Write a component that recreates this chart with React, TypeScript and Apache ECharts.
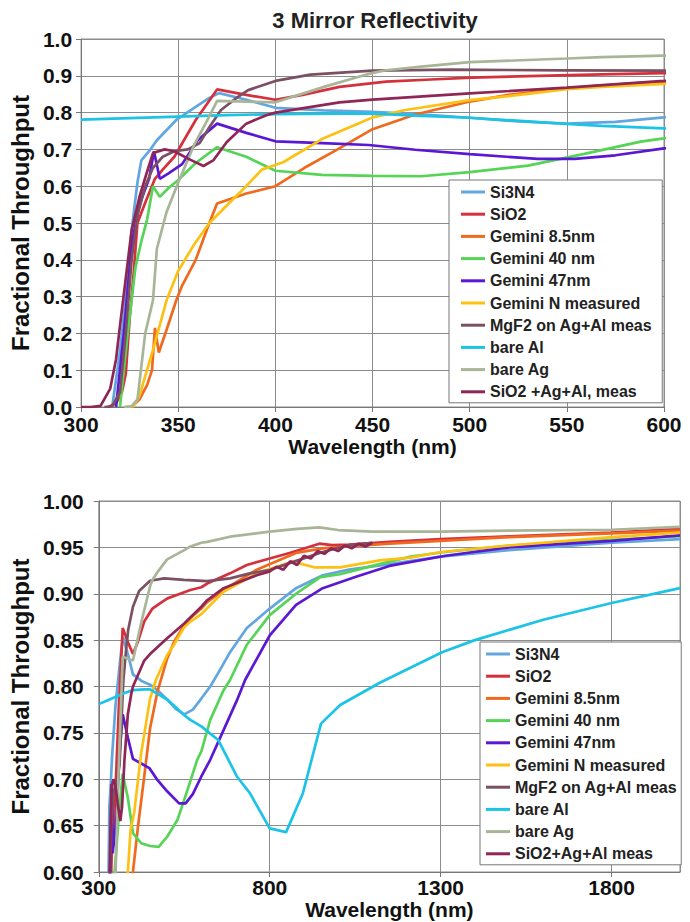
import React, { useEffect, useRef } from "react";
import * as echarts from "echarts";

const FONT = '"Liberation Sans", Arial, Helvetica, sans-serif';

// Reflectivity of a three-mirror system: [wavelength (nm), fractional throughput]
const si3n4: [number, number][] = [
  [316, 0], [320, 0.15], [323, 0.3], [326, 0.48], [329, 0.61], [331, 0.67], [335, 0.695], [339, 0.725],
  [349, 0.78], [358, 0.812], [366, 0.84], [371, 0.853], [385, 0.835], [400, 0.813], [425, 0.806],
  [450, 0.802], [475, 0.795], [500, 0.786], [525, 0.776], [550, 0.77], [575, 0.775], [600, 0.787],
  [626, 0.8], [650, 0.815], [684, 0.837], [733, 0.863], [800, 0.884], [877, 0.906], [955, 0.92],
  [1032, 0.926], [1150, 0.932], [1300, 0.94], [1500, 0.947], [1800, 0.955], [2000, 0.959],
];

const sio2: [number, number][] = [
  [314, 0], [318, 0.01], [321, 0.04], [323, 0.09], [325, 0.24], [327, 0.36], [329, 0.5], [333, 0.555],
  [338, 0.62], [342, 0.645], [348, 0.68], [359, 0.78], [370, 0.863], [385, 0.848], [400, 0.835],
  [414, 0.848], [433, 0.87], [457, 0.884], [480, 0.89], [501, 0.895], [530, 0.899], [568, 0.904],
  [600, 0.907], [617, 0.911], [684, 0.922], [733, 0.931], [800, 0.938], [858, 0.944], [945, 0.954],
  [983, 0.9525], [1032, 0.953], [1150, 0.956], [1300, 0.959], [1500, 0.962], [1800, 0.966], [2000, 0.97],
];

const gemini85: [number, number][] = [
  [326, 0], [330, 0.02], [334, 0.06], [336.5, 0.1], [338, 0.215], [340, 0.148], [344, 0.21], [349, 0.29],
  [352, 0.33], [359, 0.4], [366, 0.5], [370, 0.553], [385, 0.58], [400, 0.6], [415, 0.65], [432, 0.7],
  [450, 0.755], [472, 0.795], [500, 0.83], [520, 0.848], [550, 0.866], [568, 0.874], [600, 0.884],
  [617, 0.891], [665, 0.904], [713, 0.915], [762, 0.926], [820, 0.935], [877, 0.944], [955, 0.949],
  [1032, 0.951], [1150, 0.954], [1300, 0.957], [1500, 0.961], [1800, 0.965], [2000, 0.968],
];

const gemini40: [number, number][] = [
  [320, 0], [324, 0.2], [328, 0.38], [331, 0.45], [334, 0.51], [337, 0.6], [340.5, 0.571], [345, 0.595],
  [350, 0.617], [359, 0.663], [370, 0.706], [385, 0.68], [400, 0.642], [424, 0.631], [450, 0.628],
  [475, 0.627], [500, 0.638], [530, 0.656], [559, 0.688], [588, 0.721], [600, 0.73], [626, 0.764],
  [665, 0.796], [684, 0.807], [733, 0.845], [800, 0.877], [877, 0.9], [948, 0.918], [1006, 0.921],
  [1100, 0.93], [1212, 0.94], [1313, 0.945], [1500, 0.952], [1800, 0.958], [2000, 0.962],
];

const gemini47: [number, number][] = [
  [318, 0], [322, 0.2], [326, 0.44], [330, 0.55], [335, 0.62], [337.5, 0.695], [340.5, 0.62], [345, 0.635],
  [352, 0.66], [360, 0.725], [370, 0.77], [385, 0.745], [400, 0.722], [424, 0.717], [448, 0.712],
  [472, 0.699], [500, 0.687], [535, 0.674], [554, 0.674], [575, 0.684], [600, 0.703], [626, 0.721],
  [665, 0.753], [704, 0.785], [728, 0.807], [800, 0.855], [877, 0.888], [955, 0.906], [1050, 0.918],
  [1150, 0.93], [1314, 0.941], [1500, 0.95], [1800, 0.957], [2000, 0.963],
];

const geminiN: [number, number][] = [
  [323, 0], [327, 0.002], [330, 0.03], [337, 0.155], [344, 0.29], [350, 0.37], [358, 0.44], [366, 0.5],
  [376, 0.553], [385, 0.6], [393, 0.645], [404, 0.665], [424, 0.728], [443, 0.771], [450, 0.787],
  [467, 0.807], [500, 0.834], [520, 0.845], [550, 0.864], [568, 0.87], [600, 0.878], [665, 0.902],
  [762, 0.922], [820, 0.929], [866, 0.9346], [930, 0.9285], [1006, 0.9285], [1122, 0.936], [1212, 0.939],
  [1300, 0.945], [1500, 0.952], [1800, 0.961], [2000, 0.966],
];

const mgf2: [number, number][] = [
  [312, 0], [316, 0.002], [320, 0.04], [323, 0.2], [326, 0.4], [329, 0.52], [333, 0.6], [337, 0.65],
  [342, 0.68], [348, 0.695], [355, 0.7], [361, 0.717], [366, 0.76], [372, 0.807], [380, 0.84],
  [386, 0.861], [400, 0.886], [418, 0.903], [450, 0.914], [491, 0.9166], [549, 0.915], [617, 0.9137],
  [684, 0.9166], [742, 0.922], [800, 0.9256], [858, 0.933], [955, 0.945], [1032, 0.9525], [1100, 0.955],
];

const bareAl: [number, number][] = [
  [300, 0.781], [325, 0.785], [350, 0.789], [375, 0.793], [400, 0.796], [433, 0.797], [450, 0.797],
  [472, 0.792], [500, 0.786], [530, 0.776], [550, 0.769], [568, 0.764], [600, 0.757], [650, 0.742],
  [704, 0.703], [742, 0.685], [800, 0.647], [848, 0.643], [897, 0.685], [950, 0.76], [1006, 0.78],
  [1122, 0.804], [1304, 0.837], [1400, 0.85], [1600, 0.872], [1800, 0.89], [2000, 0.906],
];

const bareAg: [number, number][] = [
  [322, 0], [326, 0.002], [329, 0.02], [333, 0.2], [337, 0.29], [339, 0.43], [344, 0.53], [350, 0.61],
  [354, 0.66], [358, 0.71], [366, 0.79], [370, 0.832], [385, 0.83], [400, 0.828], [425, 0.87],
  [438, 0.89], [450, 0.908], [457, 0.915], [475, 0.925], [500, 0.937], [550, 0.947], [568, 0.951],
  [600, 0.955], [617, 0.956], [684, 0.9615], [800, 0.967], [880, 0.97], [945, 0.9716], [1000, 0.9687],
  [1100, 0.967], [1300, 0.967], [1500, 0.968], [1800, 0.969], [2000, 0.972],
];

const sio2AgAl: [number, number][] = [
  [300, 0], [305, 0], [310, 0.003], [315, 0.05], [318, 0.13], [320, 0.22], [323, 0.35], [326, 0.48],
  [330, 0.57], [334, 0.64], [337, 0.69], [343, 0.7], [348, 0.695], [355, 0.675], [363, 0.655],
  [368, 0.67], [375, 0.72], [385, 0.77], [395, 0.792], [400, 0.8], [433, 0.828], [450, 0.835],
  [500, 0.852], [550, 0.868], [600, 0.886], [617, 0.893], [665, 0.906], [713, 0.913], [762, 0.92],
  [800, 0.924], [820, 0.929], [840, 0.926], [860, 0.935], [880, 0.931], [900, 0.941], [920, 0.938],
  [940, 0.946], [960, 0.943], [980, 0.949], [1000, 0.946], [1020, 0.952], [1040, 0.949], [1060, 0.954],
  [1080, 0.951], [1100, 0.955],
];

const namesTop = [
  "Si3N4", "SiO2", "Gemini 8.5nm", "Gemini 40 nm", "Gemini 47nm", "Gemini N measured",
  "MgF2 on Ag+Al meas", "bare Al", "bare Ag", "SiO2 +Ag+Al, meas",
];
const namesBottom = [
  "Si3N4", "SiO2", "Gemini 8.5nm", "Gemini 40 nm", "Gemini 47nm", "Gemini N measured",
  "MgF2 on Ag+Al meas", "bare Al", "bare Ag", "SiO2+Ag+Al meas",
];
const curves = [si3n4, sio2, gemini85, gemini40, gemini47, geminiN, mgf2, bareAl, bareAg, sio2AgAl];
const colors = [
  "#62a6df", "#d5303b", "#f06a1e", "#55d455", "#5b18d4", "#fcc112",
  "#7b5063", "#1bc3e6", "#a8b597", "#8f2656",
];

const titleText = "3 Mirror Reflectivity";
const xName = "Wavelength (nm)";
const yName = "Fractional Throughput";

export default function App() {
  const ref = useRef<HTMLDivElement>(null);

  useEffect(() => {
    if (!ref.current) return;
    const chart = echarts.init(ref.current, undefined, { renderer: "svg" });

    const tickFont = { fontFamily: FONT, fontSize: 21, fontWeight: "bold" as const, color: "#111" };
    const xNameFont = { fontFamily: FONT, fontSize: 21, fontWeight: "bold" as const, color: "#111" };
    const yNameFont = { fontFamily: FONT, fontSize: 24, fontWeight: "bold" as const, color: "#111" };
    const axisLine = { show: true, lineStyle: { color: "#777", width: 1 } };
    const split = { show: true, lineStyle: { color: "#8c8c8c", width: 1 } };
    const ticks = { show: true, length: 5, lineStyle: { color: "#777" } };

    const makeSeries = (names: string[], axis: number) =>
      curves.map((data, i) => ({
        type: "line" as const,
        name: names[i],
        xAxisIndex: axis,
        yAxisIndex: axis,
        data,
        symbol: "none",
        showSymbol: false,
        clip: true,
        lineStyle: { width: 2.7, color: colors[i] },
        itemStyle: { color: colors[i] },
        emphasis: { disabled: true },
      }));

    const legendBase = {
      orient: "vertical" as const,
      icon: "rect",
      itemWidth: 24,
      itemHeight: 3,
      itemGap: 4.2,
      backgroundColor: "#fff",
      borderColor: "#777",
      borderWidth: 1,
      selectedMode: false,
      textStyle: { fontFamily: FONT, fontSize: 16, fontWeight: "bold" as const, color: "#222", lineHeight: 18 },
    };

    chart.setOption({
      animation: false,
      backgroundColor: "#fff",
      title: {
        text: titleText,
        left: 370,
        top: 4,
        textAlign: "center",
        textStyle: { fontFamily: FONT, fontSize: 22, fontWeight: "bold", color: "#222" },
      },
      grid: [
        { left: 80, top: 39, width: 584, height: 368, show: true, borderColor: "#8c8c8c", borderWidth: 1, containLabel: false },
        { left: 92, top: 501, width: 588, height: 371, show: true, borderColor: "#8c8c8c", borderWidth: 1, containLabel: false },
      ],
      xAxis: [
        {
          type: "value", gridIndex: 0, min: 300, max: 600, interval: 50,
          name: xName, nameLocation: "middle", nameGap: 28, nameTextStyle: xNameFont,
          axisLine, axisTick: ticks, splitLine: split,
          axisLabel: { ...tickFont, margin: 7, formatter: (v: number) => String(v) },
        },
        {
          type: "value", gridIndex: 1, min: 300, max: 2000, interval: 500,
          name: xName, nameLocation: "middle", nameGap: 24, nameTextStyle: xNameFont,
          axisLine, axisTick: ticks, splitLine: split,
          axisLabel: { ...tickFont, margin: 5, showMaxLabel: false, formatter: (v: number) => String(v) },
        },
      ],
      yAxis: [
        {
          type: "value", gridIndex: 0, min: 0, max: 1, interval: 0.1,
          name: yName, nameLocation: "middle", nameGap: 48, nameTextStyle: yNameFont,
          axisLine, axisTick: ticks, splitLine: split,
          axisLabel: { ...tickFont, margin: 9, formatter: (v: number) => v.toFixed(1) },
        },
        {
          type: "value", gridIndex: 1, min: 0.6, max: 1.0, interval: 0.05,
          name: yName, nameLocation: "middle", nameGap: 58, nameTextStyle: yNameFont,
          axisLine, axisTick: ticks, splitLine: split,
          axisLabel: { ...tickFont, margin: 15, formatter: (v: number) => v.toFixed(2) },
        },
      ],
      legend: [
        { ...legendBase, data: namesTop, left: 449, top: 180, padding: [3, 10, 2, 12] },
        { ...legendBase, data: namesBottom, left: 480, top: 642, padding: [3, 4, 2, 6] },
      ],
      series: [...makeSeries(namesTop, 0), ...makeSeries(namesBottom, 1)],
    });

    return () => chart.dispose();
  }, []);

  return (
    <div
      ref={ref}
      style={{ position: "absolute", left: 0, top: 0, width: 690, height: 922, background: "#fff" }}
    />
  );
}
